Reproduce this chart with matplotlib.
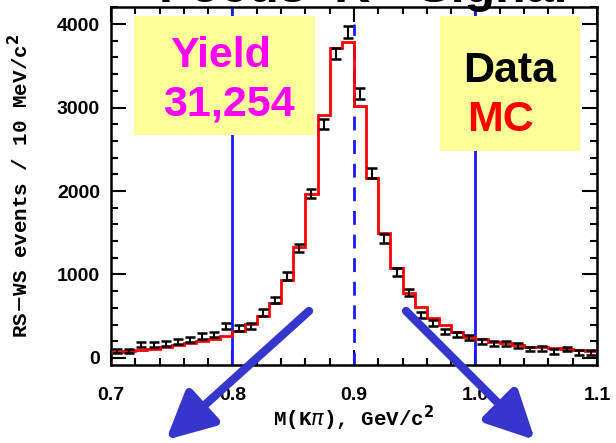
import numpy as np
import matplotlib.pyplot as plt
from matplotlib.patches import Rectangle

# M(K pi) histogram, 10 MeV bins from 0.7 to 1.1 GeV
mass_lo, mass_hi, bin_w = 0.7, 1.1, 0.01

# RS-WS data (points with errors)
data_counts = [84, 84, 156, 156, 176, 196, 224, 263, 284, 383,
               356, 387, 543, 695, 982, 1314, 1972, 2802, 3649, 3908,
               3170, 2212, 1433, 1030, 785, 520, 420, 320, 285, 240,
               196, 172, 172, 148, 108, 116, 80, 106, 66, 66]
data_err = [28, 28, 30, 30, 30, 30, 32, 32, 32, 35,
            35, 35, 38, 40, 45, 50, 55, 62, 68, 70,
            66, 58, 50, 45, 40, 36, 34, 32, 32, 30,
            30, 30, 30, 28, 28, 28, 28, 28, 28, 28]

# MC shape (red histogram)
mc_counts = [66, 78, 100, 112, 132, 150, 176, 200, 224, 262,
             327, 407, 503, 662, 934, 1333, 1964, 2910, 3716, 3788,
             3018, 2152, 1493, 1082, 782, 615, 475, 395, 315, 255,
             224, 195, 183, 156, 136, 128, 116, 104, 96, 88]

sideband_edges = [0.8, 1.0]
peak_mass = 0.9
yield_text = "31,254"

edges = np.arange(len(mc_counts) + 1) * bin_w + mass_lo
centers = edges[:-1] + bin_w / 2

fig = plt.figure(figsize=(6.16, 4.43), dpi=100)
ax = fig.add_axes([111/616, 78/443, 486/616, 358/443])

ax.stairs(mc_counts, edges, baseline=None, color='red', lw=2, zorder=3)
ax.errorbar(centers, data_counts, yerr=data_err, fmt='none', ecolor='black',
            elinewidth=1.5, capsize=3.5, capthick=1.8, zorder=4)

for m in sideband_edges:
    ax.axvline(m, color='#1a1aff', lw=2, zorder=2)
ax.plot([peak_mass, peak_mass], [-100, 4000], color='#1a1aff', lw=2,
        dashes=(5, 3.5), zorder=2)

ax.set_xlim(mass_lo, mass_hi)
ax.set_ylim(-84, 4204)
ax.set_xticks([0.7, 0.8, 0.9, 1.0, 1.1])
ax.set_xticklabels(['0.7', '0.8', '0.9', '1.0', '1.1'])
ax.set_yticks([0, 1000, 2000, 3000, 4000])
ax.set_xticks(np.arange(0.7, 1.1001, 0.02), minor=True)
ax.set_yticks(np.arange(0, 4201, 200), minor=True)

ax.tick_params(which='both', direction='in', top=True, right=True, width=1.5,
               labelsize=14)
ax.tick_params(which='major', length=11)
ax.tick_params(which='minor', length=5)
ax.tick_params(axis='x', pad=16)
ax.tick_params(axis='y', pad=8)
for lab in ax.get_xticklabels() + ax.get_yticklabels():
    lab.set_fontfamily('Liberation Sans')
    lab.set_fontweight('bold')
for s in ax.spines.values():
    s.set_linewidth(1.8)

ax.set_xlabel(r'M(K$\pi$), GeV/c$^{\mathbf{2}}$', family='Liberation Mono',
              fontweight='bold', fontsize=15, labelpad=0)
ax.set_ylabel(r'RS$-$WS events / 10 MeV/c$^{\mathbf{2}}$', family='Liberation Mono',
              fontweight='bold', fontsize=15, labelpad=18)

# yellow label boxes on top
fig.add_artist(Rectangle((134/616, (443-135)/443), 181/616, 119/443,
                         transform=fig.transFigure, facecolor='#ffff99',
                         edgecolor='none', zorder=5))
fig.add_artist(Rectangle((440/616, (443-151)/443), 140/616, 135/443,
                         transform=fig.transFigure, facecolor='#ffff99',
                         edgecolor='none', zorder=5))
box_font = dict(fontsize=31, fontweight='bold', family='Liberation Sans',
                ha='center', va='baseline', zorder=6)
fig.text(221/616, (443-67)/443, 'Yield', color='#ff00ff', **box_font)
fig.text(229/616, (443-116)/443, yield_text, color='#ff00ff', **box_font)
fig.text(510/616, (443-82)/443, 'Data', color='black', **box_font)
fig.text(500/616, (443-131)/443, 'MC', color='red', **box_font)

# slide title, mostly outside the picture as in the source
fig.text(0.59, (443-2)/443, 'Focus  K*  Signal', fontsize=36, fontweight='bold',
         family='Liberation Sans', ha='center', va='baseline')

# big arrows
arrow_style = dict(arrowstyle='-|>,head_length=0.9,head_width=0.45', lw=6,
                   color='#3636cc', mutation_scale=32, shrinkA=0, shrinkB=0)
ax.annotate('', xy=(166, 443-440), xytext=(309, 443-311), xycoords='figure pixels',
            textcoords='figure pixels', arrowprops=arrow_style, annotation_clip=False,
            zorder=7)
ax.annotate('', xy=(535, 443-440), xytext=(406, 443-311), xycoords='figure pixels',
            textcoords='figure pixels', arrowprops=arrow_style, annotation_clip=False,
            zorder=7)

fig.savefig('out.png', dpi=100)
